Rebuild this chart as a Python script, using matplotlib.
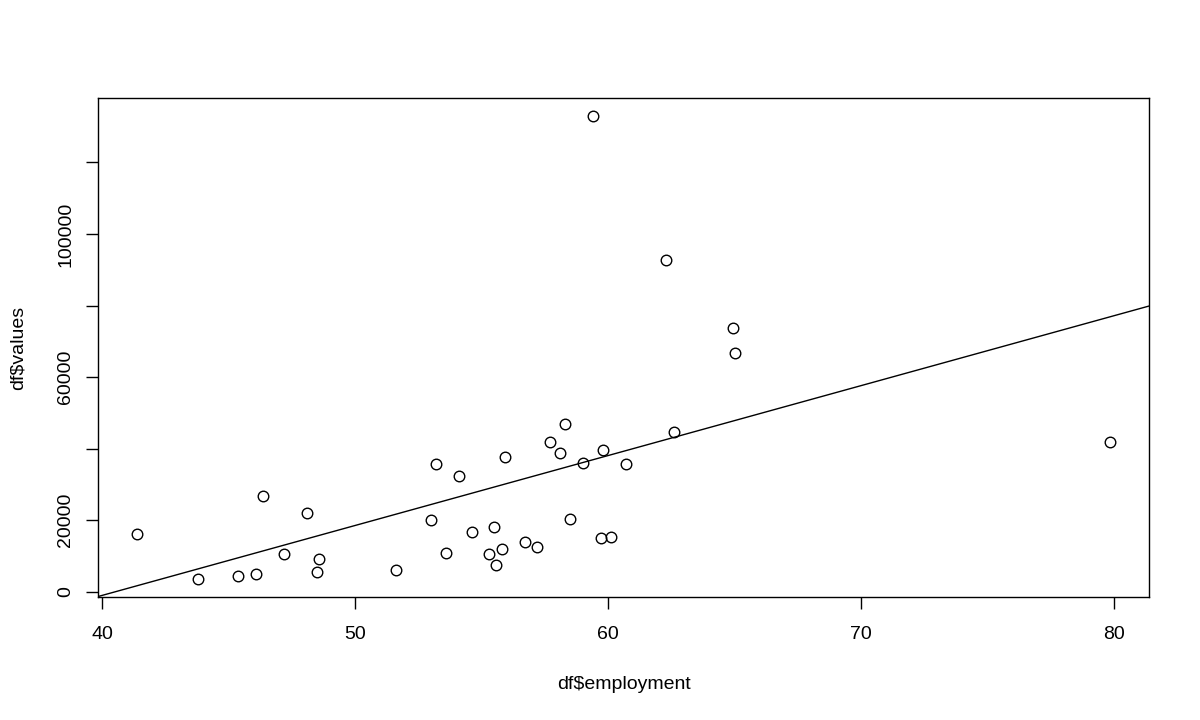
import numpy as np
import matplotlib
matplotlib.use("Agg")
import matplotlib.pyplot as plt

employment = [41.38, 43.79, 45.38, 46.09, 46.36, 47.19, 48.10, 48.50, 48.58, 51.62,
              53.00, 53.20, 53.60, 54.11, 54.62, 55.30, 55.49, 55.57, 55.81, 55.93,
              56.72, 57.19, 57.71, 58.10, 58.30, 58.50, 59.01, 59.41, 59.72, 59.80,
              60.12, 60.71, 62.29, 62.61, 64.94, 65.02, 79.84]
values = [16220, 3640, 4480, 5030, 26850, 10630, 22100, 5590, 9230, 6150,
          20140, 35800, 10910, 32450, 16780, 10630, 18180, 7550, 12030, 37760,
          13990, 12590, 41960, 38880, 46990, 20420, 36080, 132870, 15100, 39720,
          15380, 35800, 92590, 44760, 73570, 66850, 41960]

x_ticks = [40, 50, 60, 70, 80]
y_ticks = [0, 20000, 40000, 60000, 80000, 100000, 120000]
y_labels = ["0", "20000", "", "60000", "", "100000", ""]

plt.rcParams['font.family'] = ['Liberation Sans', 'DejaVu Sans']
fig = plt.figure(figsize=(12, 7.2), dpi=100)
ax = fig.add_axes([98/1200, 1 - 597/720, (1149-98)/1200, (597-98)/720])

x = np.array(employment)
y = np.array(values)
ax.plot(x, y, 'o', mfc='none', mec='black', ms=7.6, mew=1.0)

slope, intercept = np.polyfit(x, y, 1)
xr = x.max() - x.min()
yr = y.max() - y.min()
xlim = (x.min() - 0.04 * xr, x.max() + 0.04 * xr)
ylim = (y.min() - 0.04 * yr, y.max() + 0.04 * yr)
xs = np.array(xlim)
ax.plot(xs, intercept + slope * xs, color='black', lw=1.0)
ax.set_xlim(xlim)
ax.set_ylim(ylim)

ax.set_xticks(x_ticks)
ax.set_xticklabels([str(t) for t in x_ticks], fontsize=14)
ax.set_yticks(y_ticks)
ax.set_yticklabels(y_labels, fontsize=14, rotation=90, va='center')
ax.tick_params(direction='out', length=8.5, width=1)
ax.tick_params(axis='x', pad=12.5)
ax.tick_params(axis='y', pad=8.5)
for s in ax.spines.values():
    s.set_linewidth(1.0)

ax.set_xlabel("df$employment", fontsize=14, labelpad=23.5)
ax.set_ylabel("df$values", fontsize=14, labelpad=22.5)
fig.savefig("out.png", dpi=100)
